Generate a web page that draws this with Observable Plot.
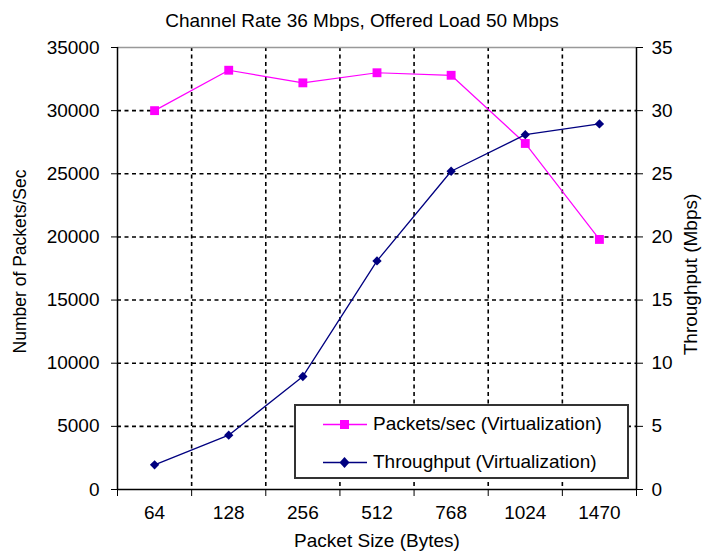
<!DOCTYPE html>
<html>
<head>
<meta charset="utf-8">
<script src="https://cdn.jsdelivr.net/npm/d3@7"></script>
<script src="https://cdn.jsdelivr.net/npm/@observablehq/plot@0.6"></script>
<style>
  body { margin: 0; background: #fff; }
  #wrap { position: relative; width: 702px; height: 553px; font-family: "Liberation Sans", Arial, sans-serif; }
  #legend { position: absolute; left: 294px; top: 404px; width: 331px; height: 71px; border: 2px solid #333; background: #fff; box-sizing: content-box; }
  #legend .row { position: absolute; left: 0; height: 20px; display: flex; align-items: center; font-size: 19px; color: #000; white-space: nowrap; }
  #legend svg { margin-left: 27px; margin-right: 6px; }
</style>
</head>
<body>
<div id="wrap"></div>
<script>
const title = "Channel Rate 36 Mbps, Offered Load 50 Mbps";
const categories = ["64", "128", "256", "512", "768", "1024", "1470"];
const packetsPerSec = [30000, 33200, 32200, 33000, 32800, 27400, 19800];
const throughputMbps = [1.95, 4.3, 8.95, 18.1, 25.2, 28.1, 28.95];
const leftTicks = [0, 5000, 10000, 15000, 20000, 25000, 30000, 35000];
const rightTicks = [0, 5, 10, 15, 20, 25, 30, 35];
const seriesNames = ["Packets/sec (Virtualization)", "Throughput (Virtualization)"];
const colors = ["#ff00ff", "#000080"];

const rows = categories.map((c, i) => ({ i, cat: c, packets: packetsPerSec[i], thr: throughputMbps[i] * 1000 }));
const boundaries = d3.range(categories.length + 1).map(k => k - 0.5);
const inner = boundaries.slice(1, -1);
const font = "Liberation Sans, Arial, sans-serif";

const chart = Plot.plot({
  width: 702, height: 553,
  marginLeft: 117, marginRight: 66, marginTop: 47, marginBottom: 64,
  x: { type: "linear", domain: [-0.5, categories.length - 0.5] },
  y: { domain: [0, 35000] },
  style: { fontFamily: font, fontSize: "19px", color: "#000", background: "#fff" },
  marks: [
    Plot.ruleY(leftTicks.slice(1, -1), { stroke: "#000", strokeWidth: 1.6, strokeDasharray: "4,3.5" }),
    Plot.ruleX(inner, { stroke: "#000", strokeWidth: 1.6, strokeDasharray: "4,3.5" }),
    Plot.ruleY([35000], { stroke: "#999", strokeWidth: 1.5 }),
    Plot.ruleX([-0.5], { stroke: "#000", strokeWidth: 1.5 }),
    Plot.ruleX([categories.length - 0.5], { stroke: "#000", strokeWidth: 1.5 }),
    Plot.ruleY([0], { stroke: "#000", strokeWidth: 1.5 }),
    Plot.axisY({ ticks: leftTicks, tickSize: 6, tickFormat: () => "", label: null, stroke: "#000" }),
    Plot.axisY({ anchor: "right", ticks: leftTicks, tickSize: 6, tickFormat: () => "", label: null, stroke: "#000" }),
    Plot.axisX({ ticks: boundaries, tickSize: 7, tickFormat: () => "", label: null, stroke: "#000" }),
    Plot.text(leftTicks, { y: d => d, text: d => String(d), frameAnchor: "left", dx: -18, textAnchor: "end", fontSize: 19, fill: "#000" }),
    Plot.text(rightTicks, { y: d => d * 1000, text: d => String(d), frameAnchor: "right", dx: 15, textAnchor: "start", fontSize: 19, fill: "#000" }),
    Plot.text(rows, { x: "i", text: "cat", frameAnchor: "bottom", dy: 29, fontSize: 19, fill: "#000" }),
    Plot.line(rows, { x: "i", y: "packets", stroke: colors[0], strokeWidth: 1.2 }),
    Plot.dot(rows, { x: "i", y: "packets", symbol: "square", fill: colors[0], r: 5 }),
    Plot.line(rows, { x: "i", y: "thr", stroke: colors[1], strokeWidth: 1.3 }),
    Plot.dot(rows, { x: "i", y: "thr", symbol: "diamond2", fill: colors[1], r: 4.2 }),
    Plot.text([title], { frameAnchor: "top", dx: -15, dy: -27, lineAnchor: "middle", textAnchor: "middle", fontSize: 19, fill: "#000" }),
    Plot.text(["Packet Size (Bytes)"], { frameAnchor: "bottom", dy: 51, lineAnchor: "middle", textAnchor: "middle", fontSize: 19, fill: "#000" }),
    Plot.text(["Number of Packets/Sec"], { frameAnchor: "left", dx: -97, dy: -7, rotate: -90, textAnchor: "middle", lineAnchor: "middle", fontSize: 17.5, fill: "#000" }),
    Plot.text(["Throughput (Mbps)"], { frameAnchor: "right", dx: 54, dy: 6, rotate: -90, textAnchor: "middle", lineAnchor: "middle", fontSize: 19, fill: "#000" })
  ]
});

const wrap = document.getElementById("wrap");
wrap.appendChild(chart);

const legend = document.createElement("div");
legend.id = "legend";
const symbols = [
  `<rect x="17" y="6" width="9" height="9" fill="${colors[0]}"/>`,
  `<path d="M21.5 5 L26.5 10.5 L21.5 16 L16.5 10.5 Z" fill="${colors[1]}"/>`
];
seriesNames.forEach((name, k) => {
  const row = document.createElement("div");
  row.className = "row";
  row.style.top = (k === 0 ? 8 : 46) + "px";
  row.innerHTML = `<svg width="44" height="21"><line x1="0" x2="44" y1="10.5" y2="10.5" stroke="${colors[k]}" stroke-width="1.3"/>${symbols[k]}</svg><span>${name}</span>`;
  legend.appendChild(row);
});
wrap.appendChild(legend);
</script>
</body>
</html>
